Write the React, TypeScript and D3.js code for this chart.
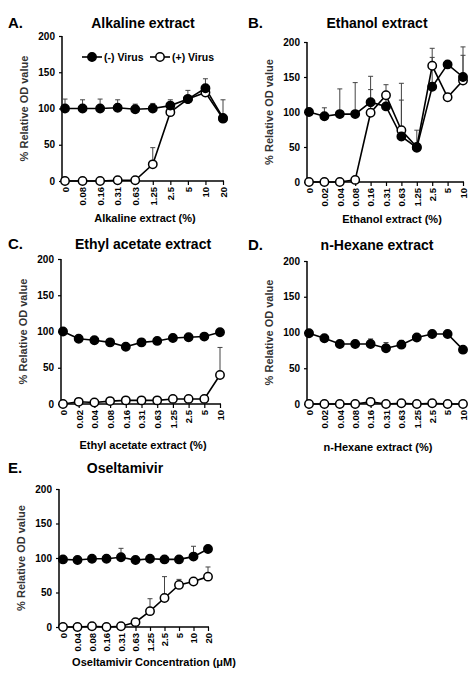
import React, { useEffect, useRef } from "react";
import * as d3 from "d3";

// x categories (concentrations)
const alkalineCats = ["0", "0.08", "0.16", "0.31", "0.63", "1.25", "2.5", "5", "10", "20"];
const extractCats = ["0", "0.02", "0.04", "0.08", "0.16", "0.31", "0.63", "1.25", "2.5", "5", "10"];
const oseltamivirCats = ["0", "0.04", "0.08", "0.16", "0.31", "0.63", "1.25", "2.5", "5", "10", "20"];
const yTicks = [0, 50, 100, 150, 200];

// A. Alkaline extract
const alkalineMinus = [100, 100, 100, 101, 99, 100, 104, 113, 128, 87];
const alkalineMinusErr = [13, 12, 13, 11, 7, 7, 8, 12, 13, 25];
const alkalinePlus = [0, 0, 0, 1, 1, 23, 95, 113, 122, 86];
const alkalinePlusErr = [0, 0, 0, 0, 0, 23, 0, 0, 0, 0];

// B. Ethanol extract
const ethanolMinus = [100, 94, 97, 97, 114, 108, 65, 49, 136, 168, 150];
const ethanolMinusErr = [0, 12, 36, 45, 18, 17, 52, 25, 42, 0, 43];
const ethanolPlus = [0, 0, 0, 3, 99, 124, 74, 50, 166, 121, 145];
const ethanolPlusErr = [0, 0, 0, 0, 52, 15, 67, 0, 25, 0, 36];

// C. Ethyl acetate extract
const ethylMinus = [100, 90, 88, 85, 79, 85, 87, 91, 92, 93, 99];
const ethylMinusErr = [0, 0, 0, 0, 0, 0, 0, 5, 0, 0, 0];
const ethylPlus = [0, 3, 2, 4, 5, 5, 5, 7, 7, 7, 40];
const ethylPlusErr = [0, 0, 0, 0, 0, 0, 0, 0, 0, 0, 38];

// D. n-Hexane extract
const hexaneMinus = [99, 92, 84, 84, 84, 78, 83, 93, 98, 98, 76];
const hexaneMinusErr = [0, 0, 0, 0, 7, 8, 6, 0, 0, 0, 0];
const hexanePlus = [0, 0, 0, 0, 3, 0, 1, 0, 1, 0, 0];
const hexanePlusErr = [0, 0, 0, 0, 0, 0, 0, 0, 0, 0, 0];

// E. Oseltamivir
const oseltamivirMinus = [98, 97, 99, 99, 101, 97, 99, 98, 98, 102, 113];
const oseltamivirMinusErr = [0, 0, 0, 0, 13, 5, 0, 0, 0, 15, 0];
const oseltamivirPlus = [0, 0, 1, 0, 1, 7, 23, 42, 61, 66, 73];
const oseltamivirPlusErr = [0, 0, 0, 0, 0, 0, 18, 31, 8, 0, 14];

const FONT = "'Liberation Sans', Arial, sans-serif";

const panels = [
  {
    letter: "A.", title: "Alkaline extract", xLabel: "Alkaline extract (%)",
    cats: alkalineCats, minus: alkalineMinus, minusErr: alkalineMinusErr, plus: alkalinePlus, plusErr: alkalinePlusErr,
    axisX: 62, xFirst: 65, xLast: 223, yTop: 36, yBot: 181,
    letterX: 8, titleX: 143, titleY: 28, xLabelX: 145, xLabelY: 222, legend: true,
  },
  {
    letter: "B.", title: "Ethanol extract", xLabel: "Ethanol extract (%)",
    cats: extractCats, minus: ethanolMinus, minusErr: ethanolMinusErr, plus: ethanolPlus, plusErr: ethanolPlusErr,
    axisX: 307, xFirst: 309, xLast: 463, yTop: 42, yBot: 182,
    letterX: 248, titleX: 377, titleY: 28, xLabelX: 392, xLabelY: 223, legend: false,
  },
  {
    letter: "C.", title: "Ethyl acetate extract", xLabel: "Ethyl acetate extract (%)",
    cats: extractCats, minus: ethylMinus, minusErr: ethylMinusErr, plus: ethylPlus, plusErr: ethylPlusErr,
    axisX: 61, xFirst: 63, xLast: 220, yTop: 259, yBot: 404,
    letterX: 8, titleX: 143, titleY: 249, xLabelX: 143, xLabelY: 449, legend: false,
  },
  {
    letter: "D.", title: "n-Hexane extract", xLabel: "n-Hexane extract (%)",
    cats: extractCats, minus: hexaneMinus, minusErr: hexaneMinusErr, plus: hexanePlus, plusErr: hexanePlusErr,
    axisX: 307, xFirst: 309, xLast: 463, yTop: 261, yBot: 404,
    letterX: 248, titleX: 377, titleY: 250, xLabelX: 378, xLabelY: 451, legend: false,
  },
  {
    letter: "E.", title: "Oseltamivir", xLabel: "Oseltamivir Concentration (\u03bcM)",
    cats: oseltamivirCats, minus: oseltamivirMinus, minusErr: oseltamivirMinusErr, plus: oseltamivirPlus, plusErr: oseltamivirPlusErr,
    axisX: 59, xFirst: 63, xLast: 208, yTop: 489, yBot: 627,
    letterX: 8, titleX: 125, titleY: 473, xLabelX: 154, xLabelY: 666, legend: false,
  },
];

export default function App() {
  const svgRef = useRef<SVGSVGElement | null>(null);

  useEffect(() => {
    const svg = d3.select(svgRef.current);
    svg.selectAll("*").remove();

    panels.forEach((p) => {
      const g = svg.append("g").style("font-family", FONT);

      const x = d3.scalePoint<string>().domain(p.cats).range([p.xFirst, p.xLast]);
      const y = d3.scaleLinear().domain([0, 200]).range([p.yBot, p.yTop]);

      // letter + title
      g.append("text").attr("x", p.letterX).attr("y", p.titleY)
        .style("font-size", "15px").style("font-weight", "bold").text(p.letter);
      g.append("text").attr("x", p.titleX).attr("y", p.titleY).attr("text-anchor", "middle")
        .style("font-size", "14px").style("font-weight", "bold").text(p.title);

      // y axis
      const yAxis = d3.axisLeft(y).tickValues(yTicks).tickSize(3).tickPadding(4);
      const ya = g.append("g").attr("transform", `translate(${p.axisX},0)`).call(yAxis);
      ya.select(".domain").attr("stroke-width", 1.5).attr("d", `M0,${p.yTop}V${p.yBot}`);
      ya.selectAll("line").attr("stroke-width", 1.2);
      ya.selectAll("text").style("font-size", "10px").style("font-weight", "bold").style("font-family", FONT);

      // x axis
      const xAxis = d3.axisBottom(x).tickSize(4).tickPadding(4);
      const xa = g.append("g").attr("transform", `translate(0,${p.yBot})`).call(xAxis);
      xa.select(".domain").attr("stroke-width", 1.5).attr("d", `M${p.axisX},0H${p.xLast + 1}`);
      xa.selectAll("line").attr("stroke-width", 1.2);
      xa.selectAll("text")
        .attr("transform", "rotate(-90)")
        .attr("text-anchor", "end")
        .attr("x", -6).attr("y", 0).attr("dy", "0.35em")
        .style("font-size", "9.5px").style("font-weight", "bold").style("font-family", FONT);

      // axis titles
      g.append("text")
        .attr("transform", `translate(${p.axisX - 34},${(p.yTop + p.yBot) / 2}) rotate(-90)`)
        .attr("text-anchor", "middle")
        .style("font-size", "11px").style("font-weight", "bold").attr("fill", "#333")
        .text("% Relative OD value");
      g.append("text").attr("x", p.xLabelX).attr("y", p.xLabelY).attr("text-anchor", "middle")
        .style("font-size", "11px").style("font-weight", "bold")
        .text(p.xLabel);

      const series = [
        { vals: p.plus, err: p.plusErr, fill: "#fff" },
        { vals: p.minus, err: p.minusErr, fill: "#000" },
      ];

      // error bars (upper only)
      series.forEach((s) => {
        s.vals.forEach((v, i) => {
          if (!s.err[i]) return;
          const cx = x(p.cats[i]) as number;
          g.append("line").attr("x1", cx).attr("x2", cx)
            .attr("y1", y(v)).attr("y2", y(v + s.err[i]))
            .attr("stroke", "#444").attr("stroke-width", 1);
          g.append("line").attr("x1", cx - 2.5).attr("x2", cx + 2.5)
            .attr("y1", y(v + s.err[i])).attr("y2", y(v + s.err[i]))
            .attr("stroke", "#444").attr("stroke-width", 1);
        });
      });

      const line = d3.line<number>()
        .x((_, i) => x(p.cats[i]) as number)
        .y((v) => y(v));

      series.forEach((s) => {
        g.append("path").attr("d", line(s.vals))
          .attr("fill", "none").attr("stroke", "#000").attr("stroke-width", 1.6);
      });
      series.forEach((s) => {
        g.selectAll(null).data(s.vals).enter().append("circle")
          .attr("cx", (_, i) => x(p.cats[i]) as number)
          .attr("cy", (v) => y(v))
          .attr("r", 4.2)
          .attr("fill", s.fill).attr("stroke", "#000").attr("stroke-width", 1.5);
      });

      if (p.legend) {
        const ly = 57;
        const items = [
          { x0: 82, fill: "#000", label: "(-) Virus" },
          { x0: 150, fill: "#fff", label: "(+) Virus" },
        ];
        items.forEach((it) => {
          g.append("line").attr("x1", it.x0).attr("x2", it.x0 + 20).attr("y1", ly).attr("y2", ly)
            .attr("stroke", "#000").attr("stroke-width", 1.6);
          g.append("circle").attr("cx", it.x0 + 10).attr("cy", ly).attr("r", 4.2)
            .attr("fill", it.fill).attr("stroke", "#000").attr("stroke-width", 1.5);
          g.append("text").attr("x", it.x0 + 22).attr("y", ly + 3.5)
            .style("font-size", "10.5px").style("font-weight", "bold").text(it.label);
        });
      }
    });
  }, []);

  return (
    <svg
      ref={svgRef}
      width={471}
      height={676}
      style={{ position: "absolute", left: 0, top: 0, background: "#fff" }}
    />
  );
}
